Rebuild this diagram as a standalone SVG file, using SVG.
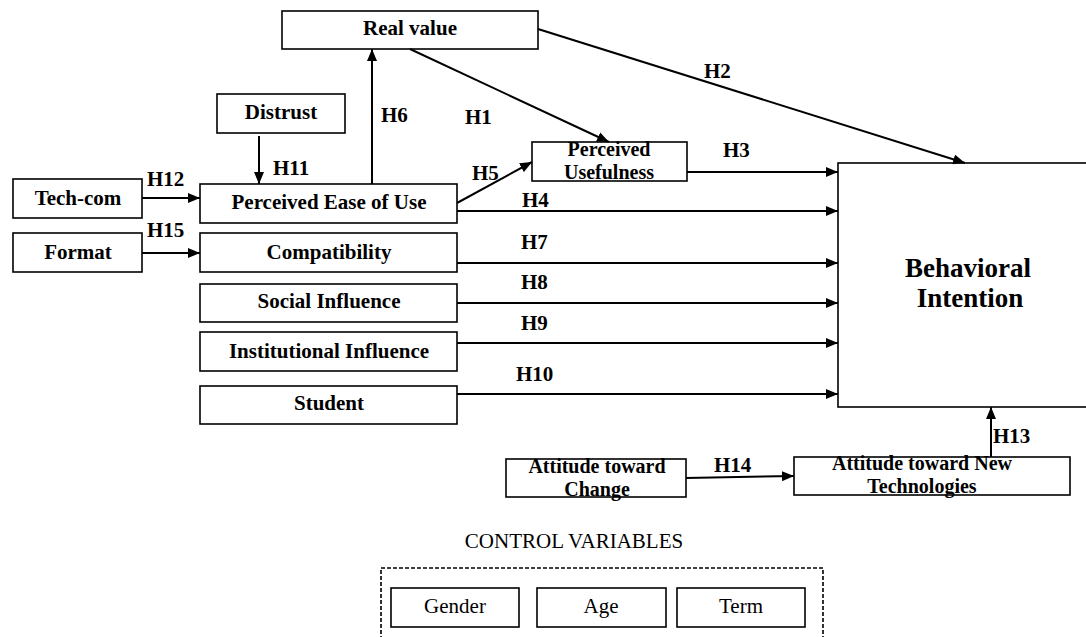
<svg xmlns="http://www.w3.org/2000/svg" width="1086" height="637" viewBox="0 0 1086 637">
<style>
.box{fill:#fff;stroke:#000;stroke-width:1.6}
.t{font-family:"Liberation Serif","Times New Roman",serif;font-weight:bold;font-size:21px;text-anchor:middle;fill:#000}
.t2{font-family:"Liberation Serif","Times New Roman",serif;font-weight:bold;font-size:20px;text-anchor:middle;fill:#000}
.h{font-family:"Liberation Serif","Times New Roman",serif;font-weight:bold;font-size:21px;fill:#000}
.r{font-family:"Liberation Serif","Times New Roman",serif;font-size:21px;text-anchor:middle;fill:#000}
.c{fill:none;stroke:#000;stroke-width:2;marker-end:url(#ah)}
</style>
<defs>
<marker id="ah" viewBox="0 0 12 10" markerWidth="12" markerHeight="10" refX="12" refY="5" orient="auto" markerUnits="userSpaceOnUse">
<path d="M0,0 L12,5 L0,10 z" fill="#000"/>
</marker>
</defs>
<rect width="1086" height="637" fill="#fff"/>

<g id="real-value"><rect class="box" x="282" y="11" width="256" height="38"/><text class="t" x="410" y="35">Real value</text></g>
<g id="distrust"><rect class="box" x="217" y="94" width="128" height="39"/><text class="t" x="281" y="119">Distrust</text></g>
<g id="tech-com"><rect class="box" x="13" y="179" width="129" height="39"/><text class="t" x="78" y="205">Tech-com</text></g>
<g id="format"><rect class="box" x="13" y="233" width="129" height="39"/><text class="t" x="78" y="259">Format</text></g>
<g id="peou"><rect class="box" x="200" y="184" width="257" height="39"/><text class="t" x="329" y="209">Perceived Ease of Use</text></g>
<g id="compatibility"><rect class="box" x="200" y="233" width="257" height="39"/><text class="t" x="329" y="259">Compatibility</text></g>
<g id="social-influence"><rect class="box" x="200" y="284" width="257" height="38"/><text class="t" x="329" y="308">Social Influence</text></g>
<g id="institutional-influence"><rect class="box" x="200" y="332" width="257" height="39"/><text class="t" x="329" y="358">Institutional Influence</text></g>
<g id="student"><rect class="box" x="200" y="386" width="257" height="38"/><text class="t" x="329" y="410">Student</text></g>
<g id="perceived-usefulness"><rect class="box" x="532" y="142" width="155" height="39"/><text class="t2" x="609" y="156">Perceived<tspan x="609" dy="22.5">Usefulness</tspan></text></g>
<g id="behavioral-intention"><rect class="box" x="838" y="163" width="260" height="244"/><text class="t" style="font-size:27px" x="968" y="277">Behavioral<tspan x="970" dy="30">Intention</tspan></text></g>
<g id="attitude-change"><rect class="box" x="506" y="459" width="180" height="38"/><text class="t2" x="597" y="473">Attitude toward<tspan x="597" dy="22.5">Change</tspan></text></g>
<g id="attitude-tech"><rect class="box" x="794" y="457" width="276" height="38"/><text class="t2" x="922" y="470">Attitude toward New<tspan x="922" dy="22.5">Technologies</tspan></text></g>

<g id="control-variables">
<text class="r" x="574" y="548">CONTROL VARIABLES</text>
<rect x="381" y="568" width="442" height="80" fill="none" stroke="#000" stroke-width="1.6" stroke-dasharray="4,2"/>
<g id="gender"><rect class="box" x="391" y="588" width="128" height="39"/><text class="r" x="455" y="613">Gender</text></g>
<g id="age"><rect class="box" x="537" y="588" width="129" height="39"/><text class="r" x="601" y="613">Age</text></g>
<g id="term"><rect class="box" x="677" y="588" width="128" height="39"/><text class="r" x="741" y="613">Term</text></g>
</g>

<g id="connectors">
<line class="c" x1="538" y1="29" x2="965" y2="163"/>
<line class="c" x1="410" y1="49" x2="609" y2="142"/>
<line class="c" x1="687" y1="172" x2="838" y2="172"/>
<line class="c" x1="457" y1="211" x2="838" y2="211"/>
<line class="c" x1="457" y1="203" x2="532" y2="162"/>
<line class="c" x1="372" y1="184" x2="372" y2="49"/>
<line class="c" x1="457" y1="263" x2="838" y2="263"/>
<line class="c" x1="457" y1="303" x2="838" y2="303"/>
<line class="c" x1="457" y1="343" x2="838" y2="343"/>
<line class="c" x1="457" y1="394" x2="838" y2="394"/>
<line class="c" x1="259" y1="136" x2="259" y2="184"/>
<line class="c" x1="142" y1="198" x2="200" y2="198"/>
<line class="c" x1="142" y1="253" x2="200" y2="253"/>
<line class="c" x1="991" y1="457" x2="991" y2="407"/>
<line class="c" x1="686" y1="478" x2="794" y2="476"/>
<g id="hypothesis-labels">
<text class="h" x="465" y="124">H1</text>
<text class="h" x="704" y="78">H2</text>
<text class="h" x="723" y="157">H3</text>
<text class="h" x="522" y="207">H4</text>
<text class="h" x="472" y="180">H5</text>
<text class="h" x="381" y="122">H6</text>
<text class="h" x="521" y="249">H7</text>
<text class="h" x="521" y="289">H8</text>
<text class="h" x="521" y="330">H9</text>
<text class="h" x="516" y="381">H10</text>
<text class="h" x="273" y="175">H11</text>
<text class="h" x="147" y="186">H12</text>
<text class="h" x="993" y="443">H13</text>
<text class="h" x="714" y="472">H14</text>
<text class="h" x="147" y="237">H15</text>
</g>
</g>
</svg>
